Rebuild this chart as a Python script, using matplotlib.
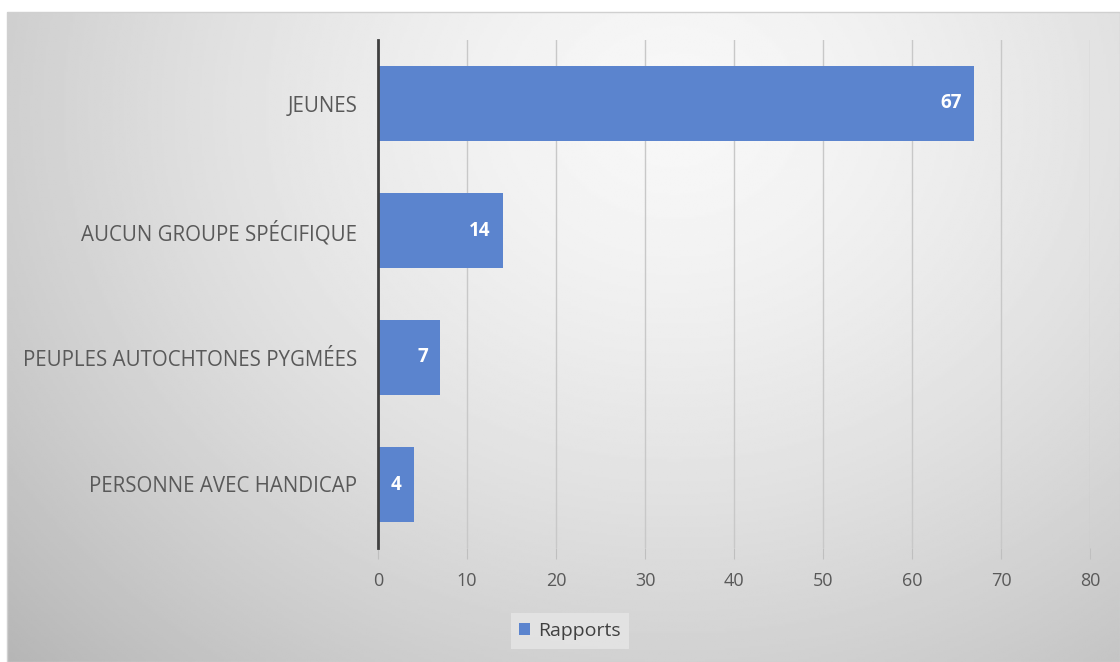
import numpy as np
import matplotlib.pyplot as plt
from matplotlib.patches import Rectangle

categories = ['JEUNES', 'AUCUN GROUPE SPÉCIFIQUE', 'PEUPLES AUTOCHTONES PYGMÉES', 'PERSONNE AVEC HANDICAP']
rapports = [67, 14, 7, 4]
xticks = [0, 10, 20, 30, 40, 50, 60, 70, 80]

plt.rcParams['font.family'] = ['Open Sans', 'DejaVu Sans']

W, H = 1120, 662
fig = plt.figure(figsize=(W / 100, H / 100), dpi=100)
fig.patch.set_facecolor('white')

# gradient background of the chart area
bg = fig.add_axes([7 / W, 0, 1 - 7 / W, 1 - 12 / H])
yy, xx = np.mgrid[0:1:300j, 0:1:500j]
r = np.sqrt(((xx - 0.6) / 0.75) ** 2 + ((yy - 0.15) / 1.1) ** 2)
shade = 0.97 - 0.22 * np.clip(r, 0, 1.2) ** 1.5
bg.imshow(shade, cmap='gray', vmin=0, vmax=1, aspect='auto', extent=[0, 1, 1, 0])
bg.set_xlim(0, 1)
bg.set_ylim(1, 0)
bg.axis('off')
fig.patches.append(Rectangle((7 / W, 0), 1 - 7 / W, 1 - 12 / H, transform=fig.transFigure,
                             fill=False, edgecolor='#d0d0d0', linewidth=1))

ax = fig.add_axes([378 / W, 1 - 548 / H, (1090 - 378) / W, (548 - 40) / H])
ax.patch.set_alpha(0)
y = np.arange(len(categories))
bars = ax.barh(y, rapports, height=0.59, color='#5B84CE', zorder=3, label='Rapports')
ax.set_ylim(len(categories) - 0.5, -0.5)
ax.set_xlim(0, 80)
ax.set_xticks(xticks)
ax.set_yticks(y)
ax.set_yticklabels(categories, fontsize=14.8, color='#595959')
ax.tick_params(axis='y', length=0, pad=15)
ax.tick_params(axis='x', length=8, color='#bfbfbf', labelsize=13, labelcolor='#595959', pad=9)
ax.grid(axis='x', color='#c8c8c8', linewidth=1, zorder=0)
for s in ['top', 'right', 'bottom']:
    ax.spines[s].set_visible(False)
ax.spines['left'].set_color('#404040')
ax.spines['left'].set_linewidth(2)
ax.spines['left'].set_zorder(4)

for b, v in zip(bars, rapports):
    ax.text(b.get_width() - 1.4, b.get_y() + b.get_height() / 2, str(v),
            ha='right', va='center', color='white', fontsize=13.5, fontweight='bold', zorder=5)

leg = fig.legend(handles=[bars], labels=['Rapports'], loc='center', bbox_to_anchor=(570 / W, 1 - 631 / H),
                 frameon=True, fontsize=14, handlelength=0.55, handleheight=0.55, handletextpad=0.4,
                 borderpad=0.45, fancybox=False)
leg.get_frame().set_facecolor('#e6e6e6')
leg.get_frame().set_edgecolor('none')
leg.get_frame().set_alpha(0.8)
for t in leg.get_texts():
    t.set_color('#404040')

fig.savefig('out.png', dpi=100)
